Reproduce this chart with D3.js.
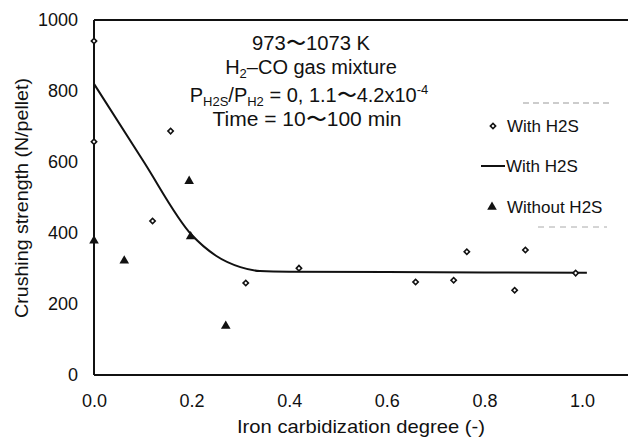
<!DOCTYPE html>
<html>
<head>
<meta charset="utf-8">
<script src="https://cdn.jsdelivr.net/npm/d3@7"></script>
<style>
  body { margin: 0; background: #fff; }
  text { font-family: "Liberation Sans", Arial, sans-serif; fill: #111; }
</style>
</head>
<body>
<svg id="svg" width="628" height="437"></svg>
<script>
// with H2S measured points (open markers)
let withX = [0, 0, 0.12, 0.157, 0.311, 0.42, 0.659, 0.737, 0.764, 0.862, 0.884, 0.987];
let withY = [941, 657, 434, 687, 259, 301, 262, 267, 347, 239, 352, 287];
// without H2S (filled triangles)
let withoutX = [0, 0.062, 0.195, 0.198, 0.27];
let withoutY = [378, 322, 546, 390, 138];
// fitted curve, with H2S
let fitX = [0, 0.1, 0.2, 0.25, 0.3, 0.34, 0.4, 0.6, 1.01];
let fitY = [820, 605, 395, 336, 304, 293, 291, 290, 288];
let xTicks = [0, 0.2, 0.4, 0.6, 0.8, 1.0];
let yTicks = [0, 200, 400, 600, 800, 1000];

let svg = d3.select("#svg");
let margin = { top: 20, right: 0, bottom: 62, left: 94 };
let width = 628 - margin.left - margin.right;
let height = 437 - margin.top - margin.bottom;

let x = d3.scaleLinear().domain([0, 1]).range([0, 488]);
let y = d3.scaleLinear().domain([0, 1000]).range([height, 0]);

let g = svg.append("g")
  .attr("transform", "translate(" + margin.left + "," + margin.top + ")");

// frame: left, top, bottom lines (right side is cut off)
g.append("line").attr("x1", 0).attr("x2", width).attr("y1", 0).attr("y2", 0)
  .attr("stroke", "#111").attr("stroke-width", 2);
g.append("line").attr("x1", 0).attr("x2", width).attr("y1", height).attr("y2", height)
  .attr("stroke", "#111").attr("stroke-width", 2);
g.append("line").attr("x1", 0).attr("x2", 0).attr("y1", 0).attr("y2", height)
  .attr("stroke", "#111").attr("stroke-width", 2);

// faint scan dashes
g.append("line").attr("x1", 429).attr("x2", 518).attr("y1", 83).attr("y2", 83)
  .attr("stroke", "#999").attr("stroke-dasharray", "6,4").attr("stroke-width", 1);
g.append("line").attr("x1", 444).attr("x2", 513).attr("y1", 207).attr("y2", 207)
  .attr("stroke", "#aaa").attr("stroke-dasharray", "6,5").attr("stroke-width", 1);

let xAxis = g.append("g")
  .attr("transform", "translate(0," + height + ")")
  .call(d3.axisBottom(x).tickValues(xTicks).tickSize(0).tickPadding(19).tickFormat(d3.format(".1f")));
xAxis.select(".domain").remove();
xAxis.selectAll("text").style("font-size", "18px").style("font-family", "Liberation Sans, Arial, sans-serif").attr("fill", "#111");

let yAxis = g.append("g")
  .call(d3.axisLeft(y).tickValues(yTicks).tickSize(0).tickPadding(16).tickFormat(d3.format("d")));
yAxis.select(".domain").remove();
yAxis.selectAll("text").style("font-size", "18px").style("font-family", "Liberation Sans, Arial, sans-serif").attr("fill", "#111");

// axis titles
svg.append("text")
  .attr("x", 361).attr("y", 433)
  .attr("text-anchor", "middle")
  .attr("textLength", 248).attr("lengthAdjust", "spacingAndGlyphs")
  .style("font-size", "19px")
  .text("Iron carbidization degree (-)");

svg.append("text")
  .attr("transform", "translate(28,198) rotate(-90)")
  .attr("text-anchor", "middle")
  .attr("textLength", 240).attr("lengthAdjust", "spacingAndGlyphs")
  .style("font-size", "19px")
  .text("Crushing strength (N/pellet)");

// fitted line
let line = d3.line()
  .x(function(d) { return x(d[0]); })
  .y(function(d) { return y(d[1]); })
  .curve(d3.curveMonotoneX);

g.append("path")
  .datum(d3.zip(fitX, fitY))
  .attr("fill", "none")
  .attr("stroke", "#111")
  .attr("stroke-width", 2)
  .attr("d", line);

// open markers (small rotated squares)
let diamond = d3.symbol().type(d3.symbolSquare).size(14);
g.selectAll(".with")
  .data(d3.zip(withX, withY))
  .enter().append("path")
  .attr("class", "with")
  .attr("transform", function(d) { return "translate(" + x(d[0]) + "," + y(d[1]) + ") rotate(45)"; })
  .attr("d", diamond)
  .attr("fill", "#fff")
  .attr("stroke", "#111")
  .attr("stroke-width", 1.6);

let tri = d3.symbol().type(d3.symbolTriangle).size(40);
g.selectAll(".without")
  .data(d3.zip(withoutX, withoutY))
  .enter().append("path")
  .attr("class", "without")
  .attr("transform", function(d) { return "translate(" + x(d[0]) + "," + y(d[1]) + ")"; })
  .attr("d", tri)
  .attr("fill", "#111");

// annotation
let note = svg.append("g").style("font-size", "20px").attr("text-anchor", "middle");
note.append("text").attr("x", 311).attr("y", 50)
  .attr("textLength", 118).attr("lengthAdjust", "spacingAndGlyphs")
  .text("973\u301C1073 K");
let t2 = note.append("text").attr("x", 311).attr("y", 74);
t2.append("tspan").text("H");
t2.append("tspan").attr("dy", 4).style("font-size", "13px").text("2");
t2.append("tspan").attr("dy", -4).text("\u2013CO gas mixture");
let t3 = note.append("text").attr("x", 309).attr("y", 102);
t3.append("tspan").text("P");
t3.append("tspan").attr("dy", 4).style("font-size", "13px").text("H2S");
t3.append("tspan").attr("dy", -4).text("/P");
t3.append("tspan").attr("dy", 4).style("font-size", "13px").text("H2");
t3.append("tspan").attr("dy", -4).text(" = 0, 1.1\u301C4.2x10");
t3.append("tspan").attr("dy", -8).style("font-size", "13px").text("-4");
note.append("text").attr("x", 307).attr("y", 126)
  .attr("textLength", 189).attr("lengthAdjust", "spacingAndGlyphs")
  .text("Time = 10\u301C100 min");

// legend
let legend = svg.append("g").style("font-size", "17px");
legend.append("path").attr("transform", "translate(493,126) rotate(45)").attr("d", diamond)
  .attr("fill", "#fff").attr("stroke", "#111").attr("stroke-width", 1.6);
legend.append("text").attr("x", 507).attr("y", 132).text("With H2S");
legend.append("line").attr("x1", 481).attr("x2", 505).attr("y1", 166).attr("y2", 166)
  .attr("stroke", "#111").attr("stroke-width", 2);
legend.append("text").attr("x", 506).attr("y", 172).text("With H2S");
legend.append("path").attr("transform", "translate(492,207)").attr("d", tri).attr("fill", "#111");
legend.append("text").attr("x", 507).attr("y", 213).text("Without H2S");
</script>
</body>
</html>
